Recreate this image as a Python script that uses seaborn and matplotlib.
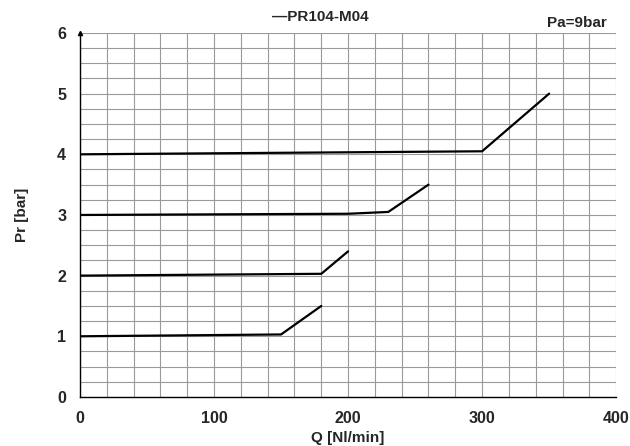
import matplotlib
matplotlib.use("Agg")
import matplotlib.pyplot as plt
import seaborn as sns
import pandas as pd
import numpy as np

# Data
q_1 = [0, 150, 180]
p_1 = [1.0, 1.03, 1.5]
q_2 = [0, 180, 200]
p_2 = [2.0, 2.03, 2.4]
q_3 = [0, 200, 230, 260]
p_3 = [3.0, 3.02, 3.05, 3.5]
q_4 = [0, 300, 350]
p_4 = [4.0, 4.05, 5.0]
x_ticks = [0, 100, 200, 300, 400]
y_ticks = [0, 1, 2, 3, 4, 5, 6]

sns.set_theme(style="white")
plt.rcParams['font.family'] = ['Liberation Sans', 'DejaVu Sans']

rows = []
for name, qs, ps in [("1", q_1, p_1), ("2", q_2, p_2), ("3", q_3, p_3), ("4", q_4, p_4)]:
    for q, p in zip(qs, ps):
        rows.append({"Q": q, "Pr": p, "curve": name})
df = pd.DataFrame(rows)

fig = plt.figure(figsize=(6.3, 4.46), dpi=100)
ax = fig.add_axes([0.127, 0.110, 0.851, 0.816])

ax.set_xlim(0, 400)
ax.set_ylim(0, 6)
ax.set_xticks(np.arange(0, 401, 20), minor=True)
ax.set_yticks(np.arange(0, 6.01, 0.25), minor=True)
ax.set_xticks(x_ticks)
ax.set_yticks(y_ticks)
ax.grid(True, which="both", color="#9a9a9a", linewidth=0.8)
ax.set_axisbelow(True)

sns.lineplot(data=df, x="Q", y="Pr", units="curve", estimator=None, sort=False,
             color="black", linewidth=1.6, ax=ax, legend=False)

for s in ["top", "right"]:
    ax.spines[s].set_visible(False)
ax.spines["left"].set_color("black")
ax.spines["bottom"].set_color("black")
ax.spines["left"].set_linewidth(1.0)
ax.spines["bottom"].set_linewidth(1.0)
ax.plot([0], [6], marker="^", color="black", markersize=3, clip_on=False,
        transform=ax.transData)

ax.tick_params(axis="both", which="both", length=0, labelsize=11.5, pad=10)
for lbl in ax.get_xticklabels() + ax.get_yticklabels():
    lbl.set_fontweight("bold")
ax.set_xlabel("Q [Nl/min]", fontsize=11, fontweight="bold", labelpad=4)
ax.set_ylabel("Pr [bar]", fontsize=11, fontweight="bold", labelpad=20)

fig.text(0.508, 0.962, "\u2014PR104-M04", ha="center", va="center",
         fontsize=11, fontweight="bold")
fig.text(0.915, 0.948, "Pa=9bar", ha="center", va="center",
         fontsize=11, fontweight="bold")

fig.savefig("out.png", dpi=100)
